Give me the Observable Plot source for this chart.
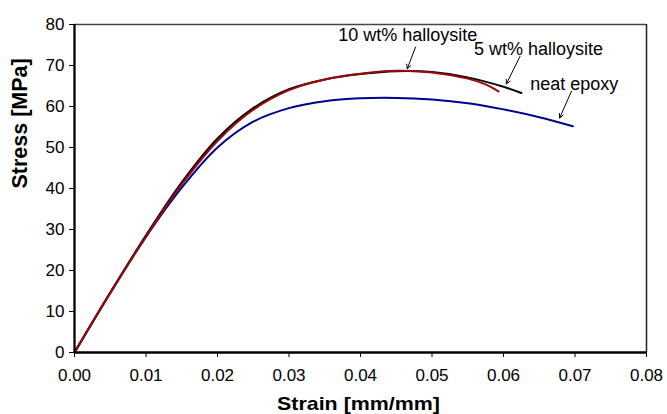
<!DOCTYPE html>
<html>
<head>
<meta charset="utf-8">
<script src="https://cdn.jsdelivr.net/npm/d3@7"></script>
<script src="https://cdn.jsdelivr.net/npm/@observablehq/plot@0.6"></script>
<style>
  html, body { margin: 0; padding: 0; background: #fff; }
  #chart { width: 667px; height: 414px; }
</style>
</head>
<body>
<div id="chart"></div>
<script>
// ---- data ----
const xTicks = [0, 0.01, 0.02, 0.03, 0.04, 0.05, 0.06, 0.07, 0.08];
const yTicks = [0, 10, 20, 30, 40, 50, 60, 70, 80];

const strainNeat = [0, 0.005, 0.010, 0.015, 0.020, 0.025, 0.030, 0.035, 0.040, 0.045, 0.050, 0.055, 0.060, 0.065, 0.0697];
const stressNeat = [0, 14.5, 28.2, 40.2, 50.0, 56.3, 59.6, 61.3, 62.0, 62.1, 61.7, 60.8, 59.3, 57.4, 55.2];

const strain5 = [0, 0.005, 0.010, 0.015, 0.020, 0.025, 0.030, 0.035, 0.040, 0.045, 0.050, 0.055, 0.060, 0.0625];
const stress5 = [0, 14.6, 28.6, 41.5, 52.2, 59.6, 64.2, 66.6, 67.9, 68.6, 68.4, 67.1, 64.8, 63.3];

const strain10 = [0, 0.005, 0.010, 0.015, 0.020, 0.025, 0.030, 0.035, 0.040, 0.045, 0.050, 0.055, 0.0575, 0.0593];
const stress10 = [0, 14.5, 28.3, 41.0, 51.6, 59.2, 64.0, 66.6, 68.0, 68.7, 68.3, 66.8, 65.4, 63.7];

const labelText = ["10 wt% halloysite", "5 wt% halloysite", "neat epoxy"];
const labelStrain = [0.0466, 0.0649, 0.0699];
const labelStress = [77.3, 73.9, 65.5];
const arrowFromStrain = [0.0477, 0.0623, 0.0695];
const arrowFromStress = [74.5, 72.2, 63.7];
const arrowToStrain = [0.04654, 0.0604, 0.06785];
const arrowToStress = [69.2, 65.5, 57.2];

const xTitle = "Strain [mm/mm]";
const yTitle = "Stress [MPa]";

// ---- tables built from the arrays ----
const toRows = (xs, ys) => xs.map((x, i) => ({x, y: ys[i]}));
const neat = toRows(strainNeat, stressNeat);
const h5 = toRows(strain5, stress5);
const h10 = toRows(strain10, stress10);
const labels = labelText.map((t, i) => ({t, x: labelStrain[i], y: labelStress[i]}));
const arrows = labelText.map((t, i) => ({x1: arrowFromStrain[i], y1: arrowFromStress[i], x2: arrowToStrain[i], y2: arrowToStress[i]}));

const font = "'Liberation Sans', Arial, Helvetica, sans-serif";

const chart = Plot.plot({
  width: 667,
  height: 414,
  marginLeft: 74,
  marginRight: 21,
  marginTop: 24,
  marginBottom: 62,
  x: {domain: [0, 0.08]},
  y: {domain: [0, 80]},
  style: {fontFamily: font, fontSize: "17px", color: "#000", background: "#fff", overflow: "visible"},
  marks: [
    Plot.ruleY([80], {stroke: "#444", strokeWidth: 1.3}),
    Plot.ruleX([0.08], {stroke: "#222", strokeWidth: 1.5}),
    Plot.axisY({ticks: yTicks, tickSize: 5, tickPadding: 5, label: null, fontSize: 17, stroke: "#000"}),
    Plot.axisX({ticks: xTicks, tickFormat: d3.format(".2f"), tickSize: 5, tickPadding: 11, label: null, fontSize: 17, stroke: "#000"}),
    Plot.line(neat, {x: "x", y: "y", stroke: "#000090", strokeWidth: 2, curve: "catmull-rom"}),
    Plot.line(h5, {x: "x", y: "y", stroke: "#000000", strokeWidth: 2, curve: "catmull-rom"}),
    Plot.line(h10, {x: "x", y: "y", stroke: "#9a0a0a", strokeWidth: 2, curve: "catmull-rom"}),
    Plot.ruleY([0], {stroke: "#000", strokeWidth: 2.3}),
    Plot.ruleX([0], {stroke: "#000", strokeWidth: 2.3}),
    Plot.arrow(arrows, {x1: "x1", y1: "y1", x2: "x2", y2: "y2", stroke: "#000", strokeWidth: 1, headLength: 7, headAngle: 55}),
    Plot.text(labels, {x: "x", y: "y", text: "t", fontSize: 18, fill: "#000", lineAnchor: "middle"}),
    Plot.text([xTitle], {frameAnchor: "bottom", lineAnchor: "middle", dx: -2, dy: 51, fontSize: 19, fontWeight: "bold", fill: "#000", className: "xtitle"}),
    Plot.text([yTitle], {frameAnchor: "left", lineAnchor: "middle", rotate: -90, dx: -54, dy: 0, fontSize: 21.5, fontWeight: "bold", fill: "#000"})
  ]
});
document.getElementById("chart").appendChild(chart);

// stretch the x title to the width seen in the reference
chart.querySelectorAll(".xtitle text").forEach(t => {
  t.setAttribute("textLength", 163);
  t.setAttribute("lengthAdjust", "spacingAndGlyphs");
});
</script>
</body>
</html>
